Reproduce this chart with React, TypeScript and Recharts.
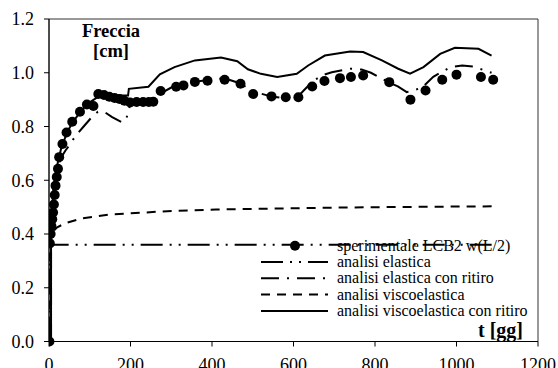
import React from 'react';
import { LineChart, Line, XAxis, YAxis, ReferenceArea, Customized } from 'recharts';

const xTicks = [0, 200, 400, 600, 800, 1000, 1200];
const yTicks = [0, 0.2, 0.4, 0.6, 0.8, 1.0, 1.2];

// sperimentale LCB2 w(L/2)
const expT = [1, 2, 4, 6, 8, 10, 12, 14, 16, 19, 22, 25, 33, 43, 57, 76, 93, 109, 121, 135, 148, 161, 173, 185, 199, 215, 231, 245, 256, 274, 312, 330, 358, 389, 431, 470, 501, 546, 581, 612, 646, 676, 714, 741, 771, 835, 887, 924, 965, 1000, 1060, 1090];
const expW = [0, 0.365, 0.4, 0.43, 0.455, 0.48, 0.51, 0.545, 0.58, 0.612, 0.643, 0.686, 0.735, 0.778, 0.818, 0.855, 0.882, 0.876, 0.921, 0.917, 0.911, 0.906, 0.902, 0.896, 0.889, 0.891, 0.891, 0.891, 0.892, 0.932, 0.948, 0.953, 0.966, 0.97, 0.974, 0.959, 0.921, 0.912, 0.909, 0.909, 0.949, 0.969, 0.98, 0.984, 0.99, 0.965, 0.9, 0.934, 0.974, 0.993, 0.984, 0.974];

// analisi elastica
const elT = [1, 1, 1100];
const elW = [0, 0.36, 0.36];

// analisi elastica con ritiro
const elRitT = [5, 5, 7, 10, 15, 20, 30, 40, 50, 65, 85, 105, 120, 135, 155, 180, 190, 198, 210, 250, 270, 300, 350, 400, 430, 470, 500, 546, 580, 610, 625, 645, 669, 694, 740, 767, 790, 833, 856, 878, 915, 943, 984, 1014, 1041, 1086];
const elRitW = [0, 0.36, 0.45, 0.54, 0.6, 0.64, 0.685, 0.71, 0.73, 0.765, 0.8, 0.835, 0.855, 0.855, 0.835, 0.815, 0.83, 0.875, 0.885, 0.89, 0.92, 0.945, 0.965, 0.975, 0.98, 0.96, 0.93, 0.912, 0.905, 0.91, 0.934, 0.965, 0.99, 1.002, 1.015, 1.012, 1.0, 0.965, 0.949, 0.928, 0.944, 0.985, 1.02, 1.027, 1.023, 1.0];

// analisi viscoelastica
const viscT = [1, 1, 5, 10, 20, 40, 80, 150, 225, 290, 410, 560, 750, 900, 1090];
const viscW = [0, 0.36, 0.39, 0.41, 0.425, 0.44, 0.458, 0.473, 0.479, 0.485, 0.491, 0.495, 0.499, 0.501, 0.503];

// analisi viscoelastica con ritiro
const viscRitT = [5, 5, 7, 10, 15, 20, 30, 45, 60, 80, 100, 120, 150, 194, 196, 244, 272, 308, 358, 422, 462, 488, 520, 560, 608, 636, 677, 739, 771, 817, 857, 886, 919, 960, 996, 1054, 1086];
const viscRitW = [0, 0.36, 0.46, 0.55, 0.61, 0.655, 0.72, 0.78, 0.82, 0.86, 0.89, 0.91, 0.915, 0.915, 0.94, 0.948, 0.994, 1.021, 1.046, 1.057, 1.043, 1.013, 0.996, 0.984, 0.996, 1.027, 1.064, 1.079, 1.077, 1.046, 1.015, 0.997, 1.021, 1.07, 1.093, 1.089, 1.064];

const legendLabels = [
  'sperimentale LCB2 w(L/2)',
  'analisi elastica',
  'analisi elastica con ritiro',
  'analisi viscoelastica',
  'analisi viscoelastica con ritiro',
];

const toRows = (t: number[], w: number[]) => t.map((x, i) => ({ t: x, w: w[i] }));

const FONT = 'Liberation Serif, Times New Roman, serif';
const dashes = ['', '22 7 2 7 2 7', '18 8 2 8', '9 7', ''];

// legenda + titoli degli assi
const Legenda = () => (
  <g style={{ fontFamily: FONT }}>
    {legendLabels.map((label, i) => {
      const y = 245.7 + i * 16.3;
      return (
        <g key={label}>
          {i === 0 ? (
            <circle cx={295} cy={y} r={5} fill="#000" />
          ) : (
            <line x1={261} x2={328} y1={y} y2={y} stroke="#000" strokeWidth={2} strokeDasharray={dashes[i] || undefined} />
          )}
          <text x={337} y={y + 5} fontSize={16} fill="#000">{label}</text>
        </g>
      );
    })}
    <text x={111} y={37} fontSize={18.5} fontWeight="bold" textAnchor="middle" fill="#000">Freccia</text>
    <text x={111} y={57} fontSize={18.5} fontWeight="bold" textAnchor="middle" fill="#000">[cm]</text>
    <text x={523} y={337} fontSize={20} fontWeight="bold" textAnchor="end" fill="#000">t [gg]</text>
  </g>
);

const tickStyle = { fontFamily: FONT, fontSize: 18, fill: '#000' };

const App = () => {
  return (
    <div style={{ position: 'absolute', left: 0, top: 0, background: '#fff' }}>
      <LineChart width={558} height={368} margin={{ top: 19, right: 20, bottom: 0, left: 0 }}>
        <XAxis dataKey="t" type="number" domain={[0, 1200]} ticks={xTicks} height={26.5}
          tick={tickStyle} tickSize={5} tickMargin={12} stroke="#000" allowDataOverflow />
        <YAxis type="number" domain={[0, 1.2]} ticks={yTicks} width={49}
          tick={tickStyle} tickSize={5} tickMargin={10} stroke="#000"
          tickFormatter={(v: number) => v.toFixed(1)} />
        <ReferenceArea x1={0} x2={1200} y1={0} y2={1.2} fill="none" stroke="#333" strokeWidth={1} />
        <Line data={toRows(viscT, viscW)} dataKey="w" type="linear" stroke="#000" strokeWidth={2}
          strokeDasharray="9 7" dot={false} isAnimationActive={false} />
        <Line data={toRows(elT, elW)} dataKey="w" type="linear" stroke="#000" strokeWidth={2}
          strokeDasharray="22 7 2 7 2 7" dot={false} isAnimationActive={false} />
        <Line data={toRows(elRitT, elRitW)} dataKey="w" type="linear" stroke="#000" strokeWidth={2}
          strokeDasharray="18 8 2 8" dot={false} isAnimationActive={false} />
        <Line data={toRows(viscRitT, viscRitW)} dataKey="w" type="linear" stroke="#000" strokeWidth={2}
          dot={false} isAnimationActive={false} />
        <Line data={toRows(expT, expW)} dataKey="w" type="linear" stroke="none"
          dot={{ r: 5, fill: '#000', stroke: 'none' }} isAnimationActive={false} />
        <Customized component={<Legenda />} />
      </LineChart>
    </div>
  );
};

export default App;
